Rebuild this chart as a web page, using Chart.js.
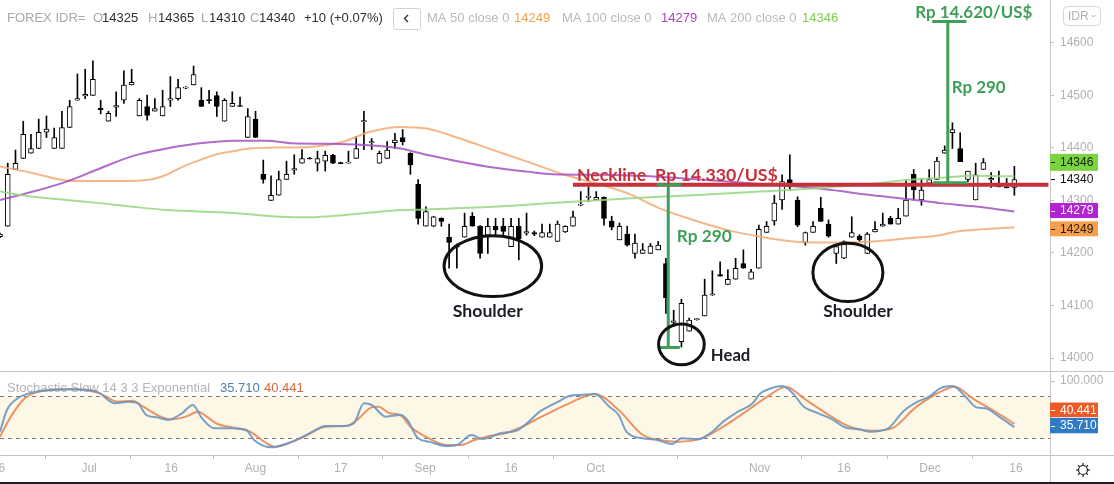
<!DOCTYPE html>
<html>
<head>
<meta charset="utf-8">
<script src="https://cdn.jsdelivr.net/npm/chart.js@4.4.1/dist/chart.umd.min.js"></script>
<style>
html,body{margin:0;padding:0;background:#fff;overflow:hidden;}
#wrap{position:relative;width:1114px;height:484px;}
canvas{display:block;}
</style>
</head>
<body>
<div id="wrap"><canvas id="chart" width="1114" height="484"></canvas></div>
<script>
// ---------------- DATA ----------------
const opens = [14231,14251,14359,14380,14390,14399,14430,14399,14399,14439,
14491,14499,14500,14476,14451,14478,14491,14520,14461,14479,
14470,14461,14491,14494,14514,14520,14491,14492,14500,14451,
14479,14481,14420,14455,14350,14300,14310,14340,14358,14371,
14381,14371,14375,14386,14372,14371,14380,14450,14410,14371,
14380,14410,14420,14390,14331,14251,14251,14266,14230,14215,
14230,14270,14251,14234,14251,14251,14212,14251,14238,14239,
14230,14230,14222,14240,14251,14291,14306,14301,14306,14261,
14225,14236,14199,14199,14199,14206,14180,14068,14031,14051,
14073,14080,14120,14159,14140,14150,14180,14150,14171,14239,
14261,14301,14340,14301,14220,14239,14285,14255,14199,14190,
14230,14232,14199,14240,14251,14266,14255,14270,14350,14301,
14333,14340,14390,14429,14399,14340,14301,14359,14339,14328,
14326,14325];
const highs = [14238,14371,14396,14451,14426,14455,14461,14438,14470,14491,
14541,14550,14566,14491,14470,14507,14547,14550,14494,14501,
14494,14510,14536,14531,14517,14556,14515,14510,14507,14494,
14507,14497,14475,14470,14377,14347,14356,14375,14387,14397,
14382,14394,14394,14388,14373,14394,14422,14470,14418,14394,
14412,14428,14435,14391,14340,14288,14270,14267,14255,14217,
14276,14277,14252,14266,14266,14266,14266,14266,14276,14242,
14255,14255,14261,14252,14280,14317,14326,14317,14307,14270,
14257,14251,14236,14218,14218,14222,14190,14091,14112,14076,
14075,14150,14166,14183,14168,14190,14206,14169,14253,14260,
14310,14349,14387,14307,14240,14260,14306,14263,14213,14223,
14269,14235,14239,14260,14276,14270,14285,14340,14359,14342,
14359,14382,14404,14448,14429,14356,14371,14380,14353,14356,
14342,14365];
const lows = [14229,14251,14359,14380,14390,14399,14420,14399,14399,14439,
14491,14494,14500,14465,14451,14460,14485,14520,14461,14453,
14470,14461,14479,14491,14513,14520,14479,14485,14460,14451,
14479,14479,14420,14420,14333,14300,14310,14340,14350,14371,
14379,14356,14356,14370,14370,14371,14380,14397,14397,14371,
14380,14399,14406,14350,14255,14251,14250,14251,14171,14171,
14230,14251,14190,14199,14234,14234,14212,14187,14234,14233,
14230,14230,14222,14239,14251,14290,14298,14301,14253,14244,
14225,14213,14190,14199,14199,14206,14085,14060,14021,14051,
14072,14080,14119,14156,14140,14150,14171,14150,14171,14239,
14253,14283,14320,14250,14215,14239,14260,14230,14180,14189,
14230,14222,14199,14240,14251,14255,14255,14270,14301,14291,
14333,14340,14390,14399,14374,14336,14301,14359,14325,14326,
14324,14310];
const closes = [14236,14350,14371,14426,14399,14430,14436,14420,14439,14479,
14494,14502,14531,14473,14466,14481,14520,14525,14491,14462,
14475,14479,14494,14515,14516,14540,14479,14490,14479,14491,
14485,14479,14460,14420,14340,14310,14340,14350,14361,14380,
14379,14380,14386,14371,14370,14373,14399,14452,14412,14390,
14396,14415,14412,14368,14266,14279,14269,14260,14220,14211,
14251,14251,14199,14251,14244,14241,14251,14227,14241,14236,
14239,14239,14255,14251,14269,14293,14308,14306,14266,14249,
14251,14215,14219,14206,14213,14215,14115,14071,14104,14072,
14075,14120,14122,14156,14150,14171,14171,14164,14245,14251,
14295,14336,14326,14253,14239,14251,14260,14232,14212,14222,
14239,14225,14236,14245,14255,14255,14266,14301,14320,14320,
14340,14375,14396,14435,14374,14356,14349,14372,14342,14326,
14324,14340];

// moving averages, sampled along the bar index
const ma50Idx = [0,4.3,7.7,10.8,15.1,19.4,21.5,23.7,25.8,28.0,30.1,32.3,36.2,40.0,44.3,47.8,51.7,55.1,59.4,63.7,68.1,72.3,81.0,85.2,89.5,93.9,98.2,102.4,105.9,108.5,112.7,117.1,121.4,123.6,126.6,131];
const ma50 = [14365,14352,14340,14337,14337,14340,14349,14365,14377,14388,14394,14399,14401,14402,14412,14431,14440,14437,14418,14396,14374,14352,14314,14285,14263,14244,14231,14222,14220,14220,14222,14228,14234,14241,14245,14249];
const ma100Idx = [0,4.3,8.6,12.9,17.2,21.5,25.8,30.1,34.4,37.8,42.2,46.5,51.7,55.1,59.4,63.7,68.1,71.4,77.5,83.9,90.4,96.9,102.0,105.9,108.5,112.7,117.1,121.4,125.7,131];
const ma100 = [14301,14317,14336,14361,14385,14399,14409,14414,14414,14409,14408,14406,14399,14387,14374,14363,14355,14350,14349,14346,14340,14333,14328,14323,14318,14310,14303,14295,14289,14279];
const ma200Idx = [0,4.3,8.6,12.9,17.2,21.5,25.8,30.1,36.2,40.0,44.3,50.8,55.1,63.7,72.3,81.0,89.5,98.2,105.9,112.7,117.1,121.4,125.7,131];
const ma200 = [14317,14307,14301,14295,14288,14282,14279,14276,14269,14268,14272,14281,14283,14288,14296,14304,14310,14317,14324,14332,14339,14343,14347,14346];

// stochastic slow 14 3 3
const stochKIdx = [0,0.9,2.3,3.7,5.5,9.2,12.5,14.8,16.6,17.8,18.9,20.3,21.7,23.5,24.9,26.1,27.7,30.0,31.8,32.8,35.1,36.9,38.7,40.6,42.0,44.3,45.7,47.0,48.0,49.8,51.7,52.6,54.0,55.4,57.7,59.0,60.9,62.3,64.6,66.9,68.3,69.7,72.1,73.5,75.0,76.8,78.7,79.9,80.9,83.0,84.9,86.8,88.0,90.1,92.0,93.4,95.3,97.2,98.2,99.6,101.0,102.4,103.8,105.7,107.6,109.1,111.0,112.4,114.7,116.6,118.5,120.0,121.4,123.0,124.7,126.1,127.3,129.0,131];
const stochK = [29.3,59.9,76.3,83.3,87.1,89,85.7,69.3,71.6,69.3,52.8,49.5,45.8,55.2,66.9,48.1,34,34,31.7,17.7,7.3,12,19.9,30.7,37.3,37.3,41.1,69.3,66.9,50.5,52.8,45.8,19.9,15.3,9.2,10.6,24.6,19,27,31.7,43.5,57.5,71.6,79.6,81,82.4,64.5,52.8,29.3,19.9,17.7,12,19.9,18.6,29.3,43.5,57.5,69.3,83.3,90.4,93.7,83.3,64.5,55.2,45.8,35.4,32.6,29.3,34,57.5,71.6,78.6,90.4,93.7,78.6,63.6,62.2,50.5,35.71];
const stochDIdx = [0,1.4,3.2,4.6,9.2,12.9,15.2,17.1,18.5,20.3,22.1,24.0,25.6,26.7,28.1,30.0,32.3,34.1,35.5,37.8,39.7,42.0,44.7,46.1,48.0,48.9,50.3,51.7,53.0,55.4,57.7,59.5,61.3,63.2,65.5,67.8,69.7,73.5,76.8,79.9,83.0,85.8,87.7,90.6,93.4,96.3,99.1,101.5,103.8,106.7,109.5,112.4,115.2,118.1,120.9,123.3,125.6,128.5,131];
const stochD = [22.3,50.5,76.3,84.3,89,83.3,71.6,73,64.5,52.8,46.7,50.5,57.5,50.5,40.1,35.4,29.3,15.3,8.2,15.3,24.6,36.4,37.3,45.8,63.6,64.5,55.2,52.8,36.4,19.9,10.6,10.6,17.7,23.2,27.9,38,49,69.3,82.4,59.9,24.6,16.7,15.3,19.9,36.4,57.5,78.6,92.7,76.3,55.2,37.3,30.7,34,62.2,82.4,92.7,76.3,57.5,40.441];
const stochBand = [20, 80];

// axis ticks
const priceTicks = [14000,14100,14200,14300,14400,14500,14600];
const stochTicks = [100];
const xTickPos = [0.24,11.5,22.1,33.0,44.0,54.9,66.0,76.9,98.1,109.0,120.1,131.2];
const xTickLabels = ['6','Jul','16','Aug','17','Sep','16','Oct','Nov','16','Dec','16'];

// ---------------- STYLE / LAYOUT ----------------
const FONT = "'Liberation Sans', Arial, sans-serif";
const ANN_FONT = "Lato, 'Open Sans', sans-serif";
const RED = '#c6303b', GREEN = '#3f9f58', INK = '#1c1c26';
const last = closes.length - 1;

const annotations = {
  neck: {v: 14330, from: 74.0, to: 135.4},
  headRule: {x: 86.3, top: 14330, bottom: 14020, topBar: [84.8, 88.0], botBar: [85.0, 87.8]},
  targetRule: {x: 122.4, top: 14641, bottom: 14334, topBar: [120.4, 124.8], botBar: [120.5, 124.9]},
  ellipses: [
    {x: 63.65, v: 14175, rx: 6.3, rv: 58},
    {x: 88.0, v: 14026, rx: 2.95, rv: 39},
    {x: 109.5, v: 14163, rx: 4.52, rv: 55.6}
  ],
  texts: [
    {t: 'Neckline  Rp 14.330/US$', x: 74.5, v: 14347, w: 201, c: RED},
    {t: 'Rp 290', x: 87.4, v: 14231, w: 55, c: GREEN},
    {t: 'Rp 14.620/US$', x: 118.2, v: 14658, w: 117, c: GREEN},
    {t: 'Rp 290', x: 122.9, v: 14516, w: 54, c: GREEN},
    {t: 'Shoulder', x: 58.47, v: 14088, w: 70, c: INK},
    {t: 'Head', x: 91.8, v: 14004, w: 39.5, c: INK},
    {t: 'Shoulder', x: 106.33, v: 14089, w: 69.5, c: INK}
  ]
};

function drawFitText(ctx, txt, x, y, w, font, color) {
  ctx.save();
  ctx.font = font;
  ctx.fillStyle = color;
  ctx.textBaseline = 'middle';
  ctx.textAlign = 'left';
  const m = ctx.measureText(txt).width;
  ctx.translate(x, y);
  ctx.scale(w / m, 1);
  ctx.fillText(txt, 0, 0);
  ctx.restore();
}

function roundRect(ctx, x, y, w, h, r) {
  ctx.beginPath();
  ctx.moveTo(x + r, y);
  ctx.lineTo(x + w - r, y); ctx.quadraticCurveTo(x + w, y, x + w, y + r);
  ctx.lineTo(x + w, y + h - r); ctx.quadraticCurveTo(x + w, y + h, x + w - r, y + h);
  ctx.lineTo(x + r, y + h); ctx.quadraticCurveTo(x, y + h, x, y + h - r);
  ctx.lineTo(x, y + r); ctx.quadraticCurveTo(x, y, x + r, y);
  ctx.closePath();
}

const overlay = {
  id: 'overlay',
  beforeDatasetsDraw(chart) {
    const {ctx, chartArea: ca, scales} = chart;
    const y2 = scales.y2;
    const yU = y2.getPixelForValue(stochBand[1]);
    const yL = y2.getPixelForValue(stochBand[0]);
    ctx.save();
    ctx.fillStyle = '#fdf8e6';
    ctx.fillRect(ca.left, yU, ca.right - ca.left, yL - yU);
    ctx.strokeStyle = '#7a7a7a';
    ctx.lineWidth = 1;
    ctx.setLineDash([4, 4]);
    for (const p of [yU, yL]) {
      const py = Math.round(p) + 0.5;
      ctx.beginPath(); ctx.moveTo(ca.left, py); ctx.lineTo(ca.right, py); ctx.stroke();
    }
    ctx.setLineDash([]);
    // stochastic legend
    ctx.font = '13px ' + FONT;
    ctx.textBaseline = 'middle';
    ctx.fillStyle = '#b4b4b4';
    ctx.fillText('Stochastic Slow 14 3 3 Exponential', 7, 388);
    ctx.fillStyle = '#4f80b0';
    ctx.fillText(stochK[stochK.length - 1].toFixed(3), 220, 388);
    ctx.fillStyle = '#d8663a';
    ctx.fillText(stochD[stochD.length - 1].toFixed(3), 264, 388);
    ctx.restore();
  },
  afterDatasetsDraw(chart) {
    const {ctx, scales: {x, y}} = chart;
    const A = annotations;
    ctx.save();
    // neckline
    ctx.strokeStyle = RED;
    ctx.lineWidth = 4;
    ctx.beginPath();
    ctx.moveTo(x.getPixelForValue(A.neck.from), y.getPixelForValue(A.neck.v));
    ctx.lineTo(x.getPixelForValue(A.neck.to), y.getPixelForValue(A.neck.v));
    ctx.stroke();
    // green measuring rules
    ctx.strokeStyle = GREEN;
    ctx.lineWidth = 3;
    for (const r of [A.headRule, A.targetRule]) {
      const px = x.getPixelForValue(r.x);
      const pt = y.getPixelForValue(r.top), pb = y.getPixelForValue(r.bottom);
      ctx.beginPath(); ctx.moveTo(px, pt); ctx.lineTo(px, pb); ctx.stroke();
      ctx.beginPath();
      ctx.moveTo(x.getPixelForValue(r.topBar[0]), pt); ctx.lineTo(x.getPixelForValue(r.topBar[1]), pt);
      ctx.moveTo(x.getPixelForValue(r.botBar[0]), pb); ctx.lineTo(x.getPixelForValue(r.botBar[1]), pb);
      ctx.stroke();
    }
    // ellipses
    ctx.strokeStyle = '#111';
    ctx.lineWidth = 3;
    for (const e of A.ellipses) {
      const cx = x.getPixelForValue(e.x), cy = y.getPixelForValue(e.v);
      const rx = Math.abs(x.getPixelForValue(e.x + e.rx) - cx);
      const ry = Math.abs(y.getPixelForValue(e.v + e.rv) - cy);
      ctx.beginPath(); ctx.ellipse(cx, cy, rx, ry, 0, 0, Math.PI * 2); ctx.stroke();
    }
    // texts
    for (const t of A.texts) {
      drawFitText(ctx, t.t, x.getPixelForValue(t.x), y.getPixelForValue(t.v), t.w, 'bold 17px ' + ANN_FONT, t.c);
    }
    ctx.restore();
  },
  afterDraw(chart) {
    const {ctx, scales: {y, y2}} = chart;
    const W = chart.width;
    ctx.save();
    // frame lines
    ctx.strokeStyle = '#c4c4c4';
    ctx.lineWidth = 1;
    ctx.beginPath();
    ctx.moveTo(0, 371.5); ctx.lineTo(W, 371.5);
    ctx.moveTo(0, 455.5); ctx.lineTo(W, 455.5);
    ctx.moveTo(1050.5, 0); ctx.lineTo(1050.5, 484);
    ctx.stroke();
    ctx.fillStyle = '#1e1e1e';
    ctx.fillRect(0, 482, W, 2);

    // axis value labels
    ctx.font = '12px ' + FONT;
    ctx.textBaseline = 'middle';
    const box = (cy, h, bg, fg, txt) => {
      ctx.fillStyle = bg;
      ctx.fillRect(1050, cy - h / 2, 48, h);
      ctx.fillStyle = fg;
      ctx.fillRect(1051, Math.round(cy), 4, 1);
      ctx.fillText(txt, 1060, cy + 0.5);
    };
    // stochastic 100 label
    ctx.fillStyle = '#b0b3b7';
    ctx.fillText(stochTicks[0].toFixed(3), 1060, y2.getPixelForValue(stochTicks[0]) - 1);
    ctx.fillStyle = '#c4c4c4';
    ctx.fillRect(1051, Math.round(y2.getPixelForValue(stochTicks[0])), 4, 1);
    // current price (black)
    const cp = y.getPixelForValue(closes[last]);
    ctx.fillStyle = '#ffffff';
    ctx.fillRect(1051, cp - 7, 46, 14);
    ctx.fillStyle = '#111';
    ctx.fillRect(1051, Math.round(cp), 4, 1);
    ctx.fillText(String(closes[last]), 1060, cp + 0.5);
    box(y.getPixelForValue(ma200[ma200.length - 1]) - 14, 17, '#7bd33f', '#142010', String(ma200[ma200.length - 1]));
    box(y.getPixelForValue(ma100[ma100.length - 1]) - 1, 15, '#b222d2', '#ffffff', String(ma100[ma100.length - 1]));
    box(y.getPixelForValue(ma50[ma50.length - 1]) + 1.5, 15, '#f6a04c', '#2a1a08', String(ma50[ma50.length - 1]));
    box(y2.getPixelForValue(stochD[stochD.length - 1]) - 14, 14.5, '#ee5a25', '#ffffff', stochD[stochD.length - 1].toFixed(3));
    box(y2.getPixelForValue(stochK[stochK.length - 1]) - 1.6, 15.5, '#2f7bc3', '#ffffff', stochK[stochK.length - 1].toFixed(3));

    // IDR box
    ctx.strokeStyle = '#d6d6d6';
    roundRect(ctx, 1063.5, 6.5, 37, 19, 4); ctx.stroke();
    ctx.fillStyle = '#b2b2b2';
    ctx.font = '12px ' + FONT;
    ctx.fillText('IDR', 1068, 16.5);
    ctx.strokeStyle = '#b2b2b2';
    ctx.beginPath(); ctx.moveTo(1091.5, 15); ctx.lineTo(1093.5, 17); ctx.lineTo(1095.5, 15); ctx.stroke();

    // gear icon
    ctx.strokeStyle = '#222';
    ctx.lineWidth = 1.2;
    ctx.beginPath(); ctx.arc(1083, 470, 4.5, 0, Math.PI * 2); ctx.stroke();
    for (let k = 0; k < 8; k++) {
      const a = k * Math.PI / 4;
      ctx.beginPath();
      ctx.moveTo(1083 + Math.cos(a) * 4.5, 470 + Math.sin(a) * 4.5);
      ctx.lineTo(1083 + Math.cos(a) * 7, 470 + Math.sin(a) * 7);
      ctx.stroke();
    }

    // header legend
    ctx.font = '13px ' + FONT;
    ctx.textBaseline = 'middle';
    const G1 = '#a9a9a9', DK = '#2f2f2f', G2 = '#b9b9b9';
    const items = [
      ['FOREX IDR=', 7, G1], ['O', 93, G1], [String(opens[last]), 102, DK],
      ['H', 148, G1], [String(highs[last]), 158, DK],
      ['L', 201, G1], [String(lows[last]), 209, DK],
      ['C', 250, G1], [String(closes[last]), 259, DK],
      ['+10 (+0.07%)', 304, DK],
      ['MA 50 close 0', 427, G2], [String(ma50[ma50.length - 1]), 514, '#f0a150'],
      ['MA 100 close 0', 562, G2], [String(ma100[ma100.length - 1]), 661, '#b040c2'],
      ['MA 200 close 0', 707, G2], [String(ma200[ma200.length - 1]), 802, '#7ccb4f']
    ];
    for (const [t, px, c] of items) { ctx.fillStyle = c; ctx.fillText(t, px, 18); }
    ctx.strokeStyle = '#d2d2d2'; ctx.lineWidth = 1;
    roundRect(ctx, 393.5, 8.5, 27, 21, 2); ctx.stroke();
    ctx.strokeStyle = '#333'; ctx.lineWidth = 1.4;
    ctx.beginPath(); ctx.moveTo(408, 15); ctx.lineTo(404.5, 18.5); ctx.lineTo(408, 22); ctx.stroke();
    ctx.restore();
  }
};

const wickData = highs.map((h, i) => ({x: i, y: [lows[i], h]}));
const bodyData = opens.map((o, i) => ({x: i, y: [o, closes[i]]}));
const bodyFill = opens.map((o, i) => closes[i] >= o ? '#ffffff' : '#000000');
const pts = (xs, ys) => xs.map((v, i) => ({x: v, y: ys[i]}));

const lineOpts = {type: 'line', pointRadius: 0, borderWidth: 2, cubicInterpolationMode: 'monotone', fill: false};

new Chart(document.getElementById('chart'), {
  data: {
    datasets: [
      {type: 'bar', data: wickData, yAxisID: 'y', backgroundColor: '#000', borderWidth: 0, barThickness: 1, grouped: false, order: 5},
      {type: 'bar', data: bodyData, yAxisID: 'y', backgroundColor: bodyFill, borderColor: '#000', borderWidth: 1, borderSkipped: false, barThickness: 5, grouped: false, order: 4},
      {...lineOpts, data: pts(ma50Idx, ma50), yAxisID: 'y', borderColor: 'rgba(242,165,105,0.8)', order: 3},
      {...lineOpts, data: pts(ma100Idx, ma100), yAxisID: 'y', borderColor: 'rgba(165,80,195,0.85)', order: 2},
      {...lineOpts, data: pts(ma200Idx, ma200), yAxisID: 'y', borderColor: 'rgba(150,215,130,0.85)', order: 1},
      {...lineOpts, data: pts(stochKIdx, stochK), yAxisID: 'y2', borderColor: 'rgba(105,150,195,0.9)', order: 0},
      {...lineOpts, data: pts(stochDIdx, stochD), yAxisID: 'y2', borderColor: 'rgba(232,135,85,0.9)', order: 0}
    ]
  },
  options: {
    responsive: false,
    animation: false,
    events: [],
    layout: {padding: 0},
    plugins: {legend: {display: false}, tooltip: {enabled: false}},
    scales: {
      x: {
        type: 'linear', position: 'bottom', min: 0, max: 135.6, offset: false,
        grid: {drawOnChartArea: false, drawTicks: true, tickLength: 4, color: '#c4c4c4'},
        border: {display: false},
        ticks: {autoSkip: false, maxRotation: 0, color: '#aeb1b5', font: {size: 12, family: FONT}, padding: 2,
          callback: (v, i) => xTickLabels[i]},
        afterBuildTicks: s => { s.ticks = xTickPos.map(v => ({value: v})); },
        afterFit: s => { s.height = 29; s.paddingLeft = 0; s.paddingRight = 0; }
      },
      y: {
        type: 'linear', position: 'right', min: 13815.24, max: 14681.9,
        grid: {drawOnChartArea: false, drawTicks: true, tickLength: 4, color: '#c4c4c4'},
        border: {display: false},
        ticks: {color: '#aeb1b5', font: {size: 12, family: FONT}, padding: 6, callback: v => String(v)},
        afterBuildTicks: s => { s.ticks = priceTicks.map(v => ({value: v})); },
        afterFit: s => { s.width = 64; s.paddingTop = 0; s.paddingBottom = 0; }
      },
      y2: {type: 'linear', display: false, min: -3.52, max: 637.3}
    }
  },
  plugins: [overlay]
});
</script>
</body>
</html>
